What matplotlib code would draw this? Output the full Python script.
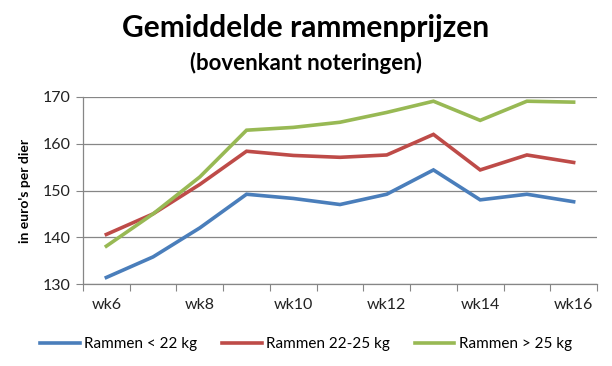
import matplotlib
matplotlib.use("Agg")
import matplotlib.pyplot as plt
import numpy as np

weeks = ["wk6", "wk7", "wk8", "wk9", "wk10", "wk11", "wk12", "wk13", "wk14", "wk15", "wk16"]
rammen_lt22 = [131.4, 135.8, 142.0, 149.2, 148.3, 147.0, 149.2, 154.4, 148.0, 149.2, 147.6]
rammen_22_25 = [140.6, 145.0, 151.3, 158.4, 157.5, 157.1, 157.6, 162.0, 154.4, 157.6, 156.0]
rammen_gt25 = [138.1, 145.0, 152.9, 162.9, 163.5, 164.6, 166.7, 169.1, 165.0, 169.1, 168.9]
series_names = ["Rammen < 22 kg", "Rammen 22-25 kg", "Rammen > 25 kg"]
colors = ["#4A7EBB", "#BE4B48", "#98B954"]

plt.rcParams['font.family'] = ['Lato', 'DejaVu Sans']

fig = plt.figure(figsize=(6.12, 3.66), dpi=100)
ax = fig.add_axes([83/612, 1-284/366, (597-83)/612, (284-97)/366])

x = np.arange(len(weeks))
lines = []
for vals, name, c in zip([rammen_lt22, rammen_22_25, rammen_gt25], series_names, colors):
    l, = ax.plot(x, vals, color=c, lw=2.6, label=name, solid_joinstyle='miter')
    lines.append(l)

ax.set_xlim(-0.5, len(weeks) - 0.5)
ax.set_ylim(130, 170)
ax.set_yticks([130, 140, 150, 160, 170])
ax.yaxis.grid(True, color="#868686", lw=0.9)
ax.set_axisbelow(True)

ax.set_xticks(np.arange(-0.5, len(weeks), 1), minor=False)
ax.set_xticklabels([])
ax.set_xticks(x[::2], minor=True)
ax.set_xticklabels(weeks[::2], minor=True)
ax.tick_params(axis='x', which='major', length=5, color="#868686", direction='out')
ax.tick_params(axis='x', which='minor', length=0, pad=10, labelsize=11.5, labelcolor="#222222")
ax.tick_params(axis='y', length=5, color="#868686", labelsize=11.5, labelcolor="#222222", pad=4)

for s in ['top', 'right']:
    ax.spines[s].set_visible(False)
for s in ['left', 'bottom']:
    ax.spines[s].set_color("#868686")
    ax.spines[s].set_linewidth(0.9)

ax.set_ylabel("in euro's per dier", fontsize=10, fontweight='bold', labelpad=8)

fig.text(0.5, 1-28/366, "Gemiddelde rammenprijzen", ha='center', va='center',
         fontsize=21.5, fontweight='bold')
fig.text(0.5, 1-63/366, "(bovenkant noteringen)", ha='center', va='center',
         fontsize=16, fontweight='bold')

fig.legend(handles=lines, loc='center', bbox_to_anchor=(0.5, 1-344/366), ncol=3,
           frameon=False, fontsize=11, handlelength=2.6, handletextpad=0.3,
           columnspacing=1.6)

fig.savefig("out.png", dpi=100)
